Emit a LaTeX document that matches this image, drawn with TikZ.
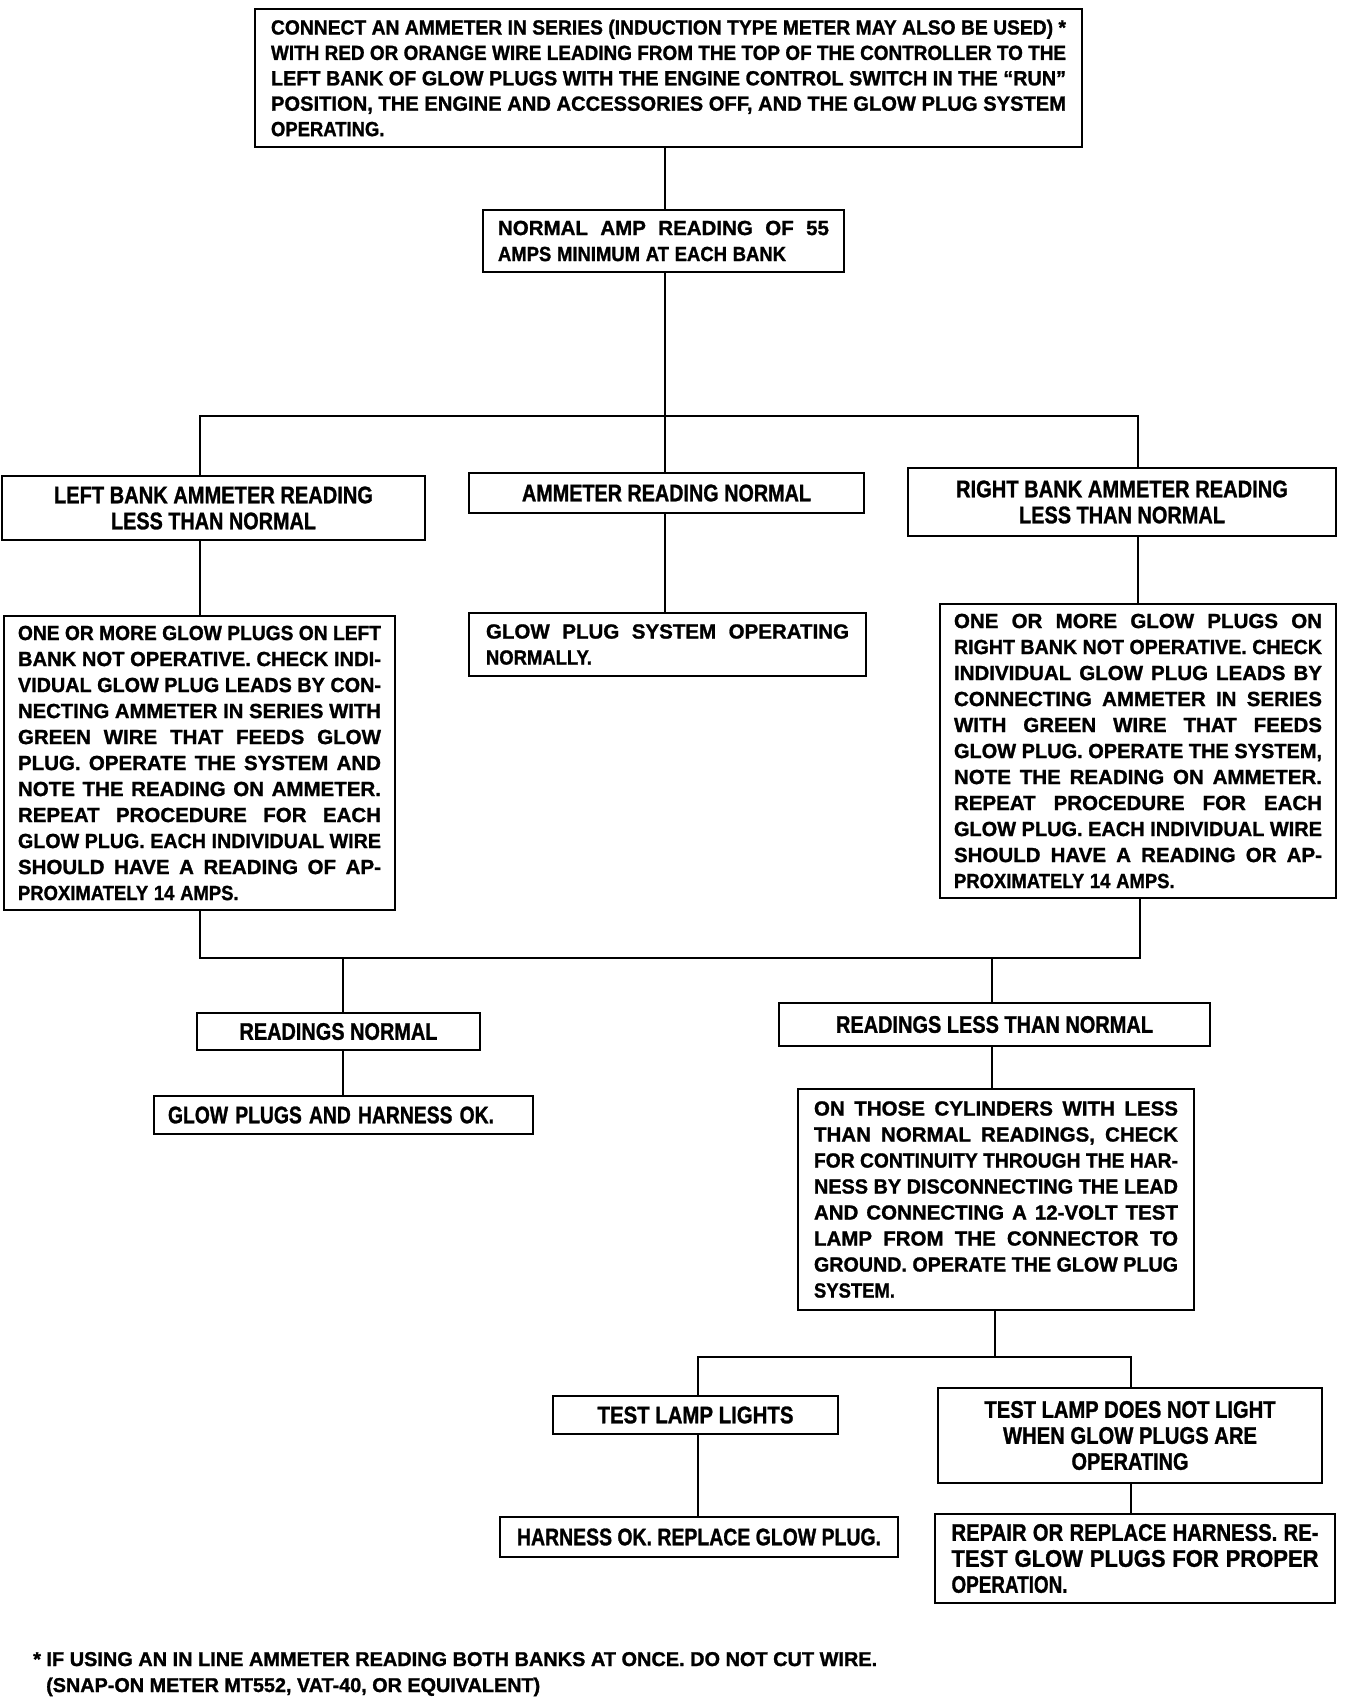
\documentclass[tikz,border=0pt]{standalone}
\usepackage{fontspec}
\usepackage{graphicx}
\setmainfont{Liberation Sans}
\newfontfamily\condf{Liberation Sans}[FakeStretch=0.9,FakeBold=1.2]
\newfontfamily\widef{Liberation Sans}[FakeBold=1.2]
\setlength\parskip{0pt}
\setlength\parindent{0pt}
\newsavebox\jlbox
\newcommand\spc{\spaceskip=0.28em plus 10em\relax\xspaceskip=0.28em plus 10em\relax}
\newcommand\jl[1]{\sbox\jlbox{\widef\bfseries\spc#1}\ifdim\wd\jlbox>\linewidth\resizebox{\linewidth}{\height}{\usebox\jlbox}\else\makebox[\linewidth][s]{\widef\bfseries\spc#1}\fi\par}
\newcommand\lastline[1]{{\spc#1}\par}
\newcommand\fitw[2]{\resizebox{#1pt}{\height}{#2}}
\newcommand\bodyfont{\condf\bfseries\fontsize{20.5}{26}\selectfont}
\newcommand\topfont{\condf\bfseries\fontsize{20.5}{25.4}\selectfont}
\newcommand\hfont{\condf\bfseries\fontsize{24}{26}\selectfont}
\newcommand\footfont{\condf\bfseries\fontsize{20}{26}\selectfont}
\begin{document}
\begin{tikzpicture}[x=1pt,y=-1pt,
  box/.style={draw,line width=2.8pt,inner sep=0pt},
  conn/.style={line width=2.4pt,line cap=rect,line join=miter}]
\useasboundingbox (0,0) rectangle (1344,1702);

% ---------- top ----------
\node[box,minimum width=827pt,minimum height=138pt,text width=795pt,font=\topfont] (top) at (668.5,78) {%
\jl{CONNECT AN AMMETER IN SERIES (INDUCTION TYPE METER MAY ALSO BE USED) *}
\jl{WITH RED OR ORANGE WIRE LEADING FROM THE TOP OF THE CONTROLLER TO THE}
\jl{LEFT BANK OF GLOW PLUGS WITH THE ENGINE CONTROL SWITCH IN THE “RUN”}
\jl{POSITION, THE ENGINE AND ACCESSORIES OFF, AND THE GLOW PLUG SYSTEM}
\lastline{OPERATING.}};

\node[box,minimum width=361pt,minimum height=62pt,text width=331pt,font=\bodyfont] (normal) at (663.5,241) {%
\jl{NORMAL AMP READING OF 55}
\lastline{AMPS MINIMUM AT EACH BANK}};

% ---------- second level ----------
\node[box,minimum width=423pt,minimum height=64pt,align=center,font=\hfont] (lhead) at (213.5,508) {%
\fitw{319}{LEFT BANK AMMETER READING}\\\fitw{205}{LESS THAN NORMAL}};
\node[box,minimum width=395pt,minimum height=40pt,font=\hfont] (mid) at (666.5,493) {\fitw{289}{AMMETER READING NORMAL}};
\node[box,minimum width=428pt,minimum height=68pt,align=center,font=\hfont] (rhead) at (1122,502) {%
\fitw{332}{RIGHT BANK AMMETER READING}\\\fitw{206}{LESS THAN NORMAL}};

% ---------- third level ----------
\node[box,minimum width=391pt,minimum height=294pt,text width=363pt,font=\bodyfont] (lbig) at (199.5,763) {%
\jl{ONE OR MORE GLOW PLUGS ON LEFT}
\jl{BANK NOT OPERATIVE. CHECK INDI-}
\jl{VIDUAL GLOW PLUG LEADS BY CON-}
\jl{NECTING AMMETER IN SERIES WITH}
\jl{GREEN WIRE THAT FEEDS GLOW}
\jl{PLUG. OPERATE THE SYSTEM AND}
\jl{NOTE THE READING ON AMMETER.}
\jl{REPEAT PROCEDURE FOR EACH}
\jl{GLOW PLUG. EACH INDIVIDUAL WIRE}
\jl{SHOULD HAVE A READING OF AP-}
\lastline{PROXIMATELY 14 AMPS.}};

\node[box,minimum width=397pt,minimum height=63pt,text width=363pt,font=\bodyfont] (glow) at (667.5,644.5) {%
\jl{GLOW PLUG SYSTEM OPERATING}
\lastline{NORMALLY.}};

\node[box,minimum width=396pt,minimum height=294pt,text width=368pt,font=\bodyfont] (rbig) at (1138,751) {%
\jl{ONE OR MORE GLOW PLUGS ON}
\jl{RIGHT BANK NOT OPERATIVE. CHECK}
\jl{INDIVIDUAL GLOW PLUG LEADS BY}
\jl{CONNECTING AMMETER IN SERIES}
\jl{WITH GREEN WIRE THAT FEEDS}
\jl{GLOW PLUG. OPERATE THE SYSTEM,}
\jl{NOTE THE READING ON AMMETER.}
\jl{REPEAT PROCEDURE FOR EACH}
\jl{GLOW PLUG. EACH INDIVIDUAL WIRE}
\jl{SHOULD HAVE A READING OR AP-}
\lastline{PROXIMATELY 14 AMPS.}};

% ---------- fourth level ----------
\node[box,minimum width=283pt,minimum height=37pt,font=\hfont] (rnorm) at (338.5,1031.5) {\fitw{198}{READINGS NORMAL}};
\node[box,minimum width=379pt,minimum height=38pt,text width=351pt,font=\hfont] (gpok) at (343.5,1115) {\fitw{326}{GLOW PLUGS AND HARNESS OK.}};
\node[box,minimum width=431pt,minimum height=43pt,font=\hfont] (rless) at (994.5,1024.5) {\fitw{317}{READINGS LESS THAN NORMAL}};

\node[box,minimum width=396pt,minimum height=221pt,text width=364pt,font=\bodyfont] (cyl) at (996,1199.5) {%
\jl{ON THOSE CYLINDERS WITH LESS}
\jl{THAN NORMAL READINGS, CHECK}
\jl{FOR CONTINUITY THROUGH THE HAR-}
\jl{NESS BY DISCONNECTING THE LEAD}
\jl{AND CONNECTING A 12-VOLT TEST}
\jl{LAMP FROM THE CONNECTOR TO}
\jl{GROUND. OPERATE THE GLOW PLUG}
\lastline{SYSTEM.}};

% ---------- bottom ----------
\node[box,minimum width=285pt,minimum height=38pt,font=\hfont] (lights) at (695.5,1415) {\fitw{196}{TEST LAMP LIGHTS}};
\node[box,minimum width=384pt,minimum height=95pt,align=center,font=\hfont] (nolight) at (1130,1435.5) {%
\fitw{291}{TEST LAMP DOES NOT LIGHT}\\\fitw{254}{WHEN GLOW PLUGS ARE}\\\fitw{117}{OPERATING}};
\node[box,minimum width=398pt,minimum height=40pt,font=\hfont] (hok) at (699,1537) {\fitw{364}{HARNESS OK. REPLACE GLOW PLUG.}};
\node[box,minimum width=400pt,minimum height=89pt,text width=367pt,font=\hfont] (repair) at (1135,1558.5) {%
\lastline{\fitw{367}{REPAIR OR REPLACE HARNESS. RE-}}
\lastline{\fitw{367}{TEST GLOW PLUGS FOR PROPER}}
\lastline{\fitw{116}{OPERATION.}}};

% ---------- footnote ----------
\node[anchor=base west,inner sep=0pt,font=\footfont] (foot1) at (33,1666) {\fitw{844}{* IF USING AN IN LINE AMMETER READING BOTH BANKS AT ONCE. DO NOT CUT WIRE.}};
\node[anchor=base west,inner sep=0pt,font=\footfont] (foot2) at (46,1692) {\fitw{494}{(SNAP-ON METER MT552, VAT-40, OR EQUIVALENT)}};

% ---------- connectors ----------
\coordinate (jT) at (665,416);
\coordinate (jL) at (200,416);
\coordinate (jR) at (1138,416);
\draw[conn] (top.south -| jT) -- (normal.north -| jT);
\draw[conn] (normal.south -| jT) -- (mid.north -| jT);
\draw[conn] (lhead.north -| jL) -- (jL) -- (jR) -- (rhead.north -| jR);
\draw[conn] (lhead.south -| jL) -- (lbig.north -| jL);
\draw[conn] (mid.south -| jT) -- (glow.north -| jT);
\draw[conn] (rhead.south -| jR) -- (rbig.north -| jR);

\coordinate (kL) at (200,958);
\coordinate (kR) at (1140,958);
\coordinate (kN) at (343,958);
\coordinate (kS) at (992,958);
\draw[conn] (lbig.south -| kL) -- (kL) -- (kR) -- (rbig.south -| kR);
\draw[conn] (kN) -- (rnorm.north -| kN);
\draw[conn] (rnorm.south -| kN) -- (gpok.north -| kN);
\draw[conn] (kS) -- (rless.north -| kS);
\draw[conn] (rless.south -| kS) -- (cyl.north -| kS);

\coordinate (mL) at (698,1357);
\coordinate (mR) at (1131,1357);
\coordinate (mC) at (995,1357);
\draw[conn] (cyl.south -| mC) -- (mC);
\draw[conn] (lights.north -| mL) -- (mL) -- (mR) -- (nolight.north -| mR);
\draw[conn] (lights.south -| mL) -- (hok.north -| mL);
\draw[conn] (nolight.south -| mR) -- (repair.north -| mR);
\end{tikzpicture}
\end{document}
